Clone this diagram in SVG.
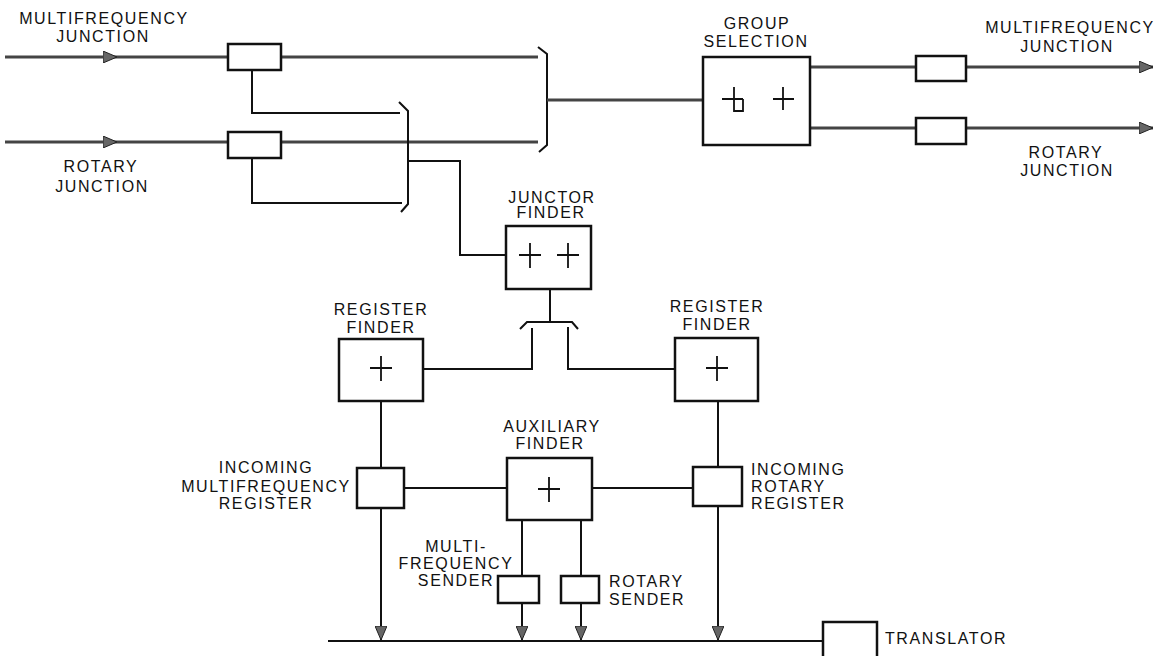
<svg xmlns="http://www.w3.org/2000/svg" width="1154" height="656" viewBox="0 0 1154 656">
<defs>
<marker id="arr" viewBox="0 0 14 12" refX="14" refY="6" markerWidth="14" markerHeight="12" markerUnits="userSpaceOnUse" orient="auto">
<path d="M0,0 L14,6 L0,12 z" fill="#666" stroke="#222" stroke-width="1"/>
</marker>
</defs>
<style>
.thick{fill:none;stroke:#444;stroke-width:3.2}
.ln{fill:none;stroke:#111;stroke-width:2}
.box{fill:#fff;stroke:#111;stroke-width:2.5}
.sym{fill:none;stroke:#111;stroke-width:1.8}
text{font-family:"Liberation Sans",Arial,sans-serif;font-size:16px;letter-spacing:1.6px;fill:#111}
.m{text-anchor:middle}
</style>
<rect width="1154" height="656" fill="#fff"/>
<g id="connectors">
<path class="thick" d="M5,57 L117,57 L538,57" marker-mid="url(#arr)"/>
<path class="thick" d="M5,142 L117,142 L538,142" marker-mid="url(#arr)"/>
<path class="ln" d="M252,70 L252,113 L400,113"/>
<path class="ln" d="M252,158 L252,203 L402,203"/>
<path class="ln" d="M399,102 L408,111 L408,204 L401,212"/>
<path class="ln" d="M538,47 L547,54 L547,145 L539,152"/>
<path class="thick" d="M547,100 L703,100"/>
<path class="thick" d="M810,67 L1153,67" marker-end="url(#arr)"/>
<path class="thick" d="M810,128 L1153,128" marker-end="url(#arr)"/>
<path class="ln" d="M408,161 L460,161 L460,255 L506,255"/>
<path class="ln" d="M550,289 L550,322"/>
<path class="ln" d="M520,329 L527,322 L572,322 L578,329"/>
<path class="ln" d="M532,328 L532,369 L423,369"/>
<path class="ln" d="M568,327 L568,369 L675,369"/>
<path class="ln" d="M381,401 L381,468"/>
<path class="ln" d="M381,508 L381,640" marker-end="url(#arr)"/>
<path class="ln" d="M404,488 L507,488"/>
<path class="ln" d="M592,488 L693,488"/>
<path class="ln" d="M718,401 L718,467"/>
<path class="ln" d="M718,506 L718,640" marker-end="url(#arr)"/>
<path class="ln" d="M522,520 L522,576"/>
<path class="ln" d="M522,603 L522,640" marker-end="url(#arr)"/>
<path class="ln" d="M581,520 L581,576"/>
<path class="ln" d="M581,603 L581,640" marker-end="url(#arr)"/>
<path class="ln" d="M328,641 L823,641"/>
</g>
<g id="mf-junction-in">
<rect class="box" x="228" y="44" width="53" height="26"/>
<text class="m" x="104" y="24">MULTIFREQUENCY</text>
<text class="m" x="103" y="42">JUNCTION</text>
</g>
<g id="rotary-junction-in">
<rect class="box" x="228" y="132" width="53" height="26"/>
<text class="m" x="101" y="172">ROTARY</text>
<text class="m" x="102" y="192">JUNCTION</text>
</g>
<g id="group-selection">
<rect class="box" x="703" y="57" width="107" height="88"/>
<path class="sym" d="M722,99 L743,99 M734,87 L734,111 L743,111 L743,99"/>
<path class="sym" d="M773,99 L794,99 M783,87 L783,110"/>
<text class="m" x="757" y="29">GROUP</text>
<text class="m" x="756" y="47">SELECTION</text>
</g>
<g id="mf-junction-out">
<rect class="box" x="916" y="56" width="50" height="25"/>
<text class="m" x="1070" y="33">MULTIFREQUENCY</text>
<text class="m" x="1067" y="52">JUNCTION</text>
</g>
<g id="rotary-junction-out">
<rect class="box" x="916" y="118" width="50" height="26"/>
<text class="m" x="1066" y="158">ROTARY</text>
<text class="m" x="1067" y="176">JUNCTION</text>
</g>
<g id="junctor-finder">
<rect class="box" x="506" y="226" width="85" height="63"/>
<path class="sym" d="M519,255 L541,255 M530,243 L530,268 M557,255 L579,255 M568,243 L568,268"/>
<text class="m" x="552" y="203">JUNCTOR</text>
<text class="m" x="551" y="218">FINDER</text>
</g>
<g id="register-finder-left">
<rect class="box" x="339" y="339" width="84" height="62"/>
<path class="sym" d="M370,368 L392,368 M381,356 L381,381"/>
<text class="m" x="381" y="315">REGISTER</text>
<text class="m" x="381" y="333">FINDER</text>
</g>
<g id="register-finder-right">
<rect class="box" x="675" y="338" width="83" height="63"/>
<path class="sym" d="M706,368 L728,368 M717,356 L717,381"/>
<text class="m" x="717" y="312">REGISTER</text>
<text class="m" x="717" y="330">FINDER</text>
</g>
<g id="incoming-mf-register">
<rect class="box" x="357" y="468" width="47" height="40"/>
<text class="m" x="266" y="473">INCOMING</text>
<text class="m" x="266" y="492">MULTIFREQUENCY</text>
<text class="m" x="266" y="509">REGISTER</text>
</g>
<g id="auxiliary-finder">
<rect class="box" x="507" y="458" width="85" height="62"/>
<path class="sym" d="M538,489 L560,489 M549,477 L549,502"/>
<text class="m" x="552" y="432">AUXILIARY</text>
<text class="m" x="550" y="449">FINDER</text>
</g>
<g id="incoming-rotary-register">
<rect class="box" x="693" y="467" width="49" height="39"/>
<text x="751" y="475">INCOMING</text>
<text x="751" y="492">ROTARY</text>
<text x="751" y="509">REGISTER</text>
</g>
<g id="mf-sender">
<rect class="box" x="498" y="576" width="41" height="27"/>
<text class="m" x="456" y="552">MULTI-</text>
<text class="m" x="456" y="569">FREQUENCY</text>
<text class="m" x="456" y="586">SENDER</text>
</g>
<g id="rotary-sender">
<rect class="box" x="561" y="576" width="38" height="27"/>
<text x="609" y="587">ROTARY</text>
<text x="609" y="605">SENDER</text>
</g>
<g id="translator">
<rect class="box" x="823" y="622" width="54" height="40"/>
<text x="885" y="644">TRANSLATOR</text>
</g>
</svg>
